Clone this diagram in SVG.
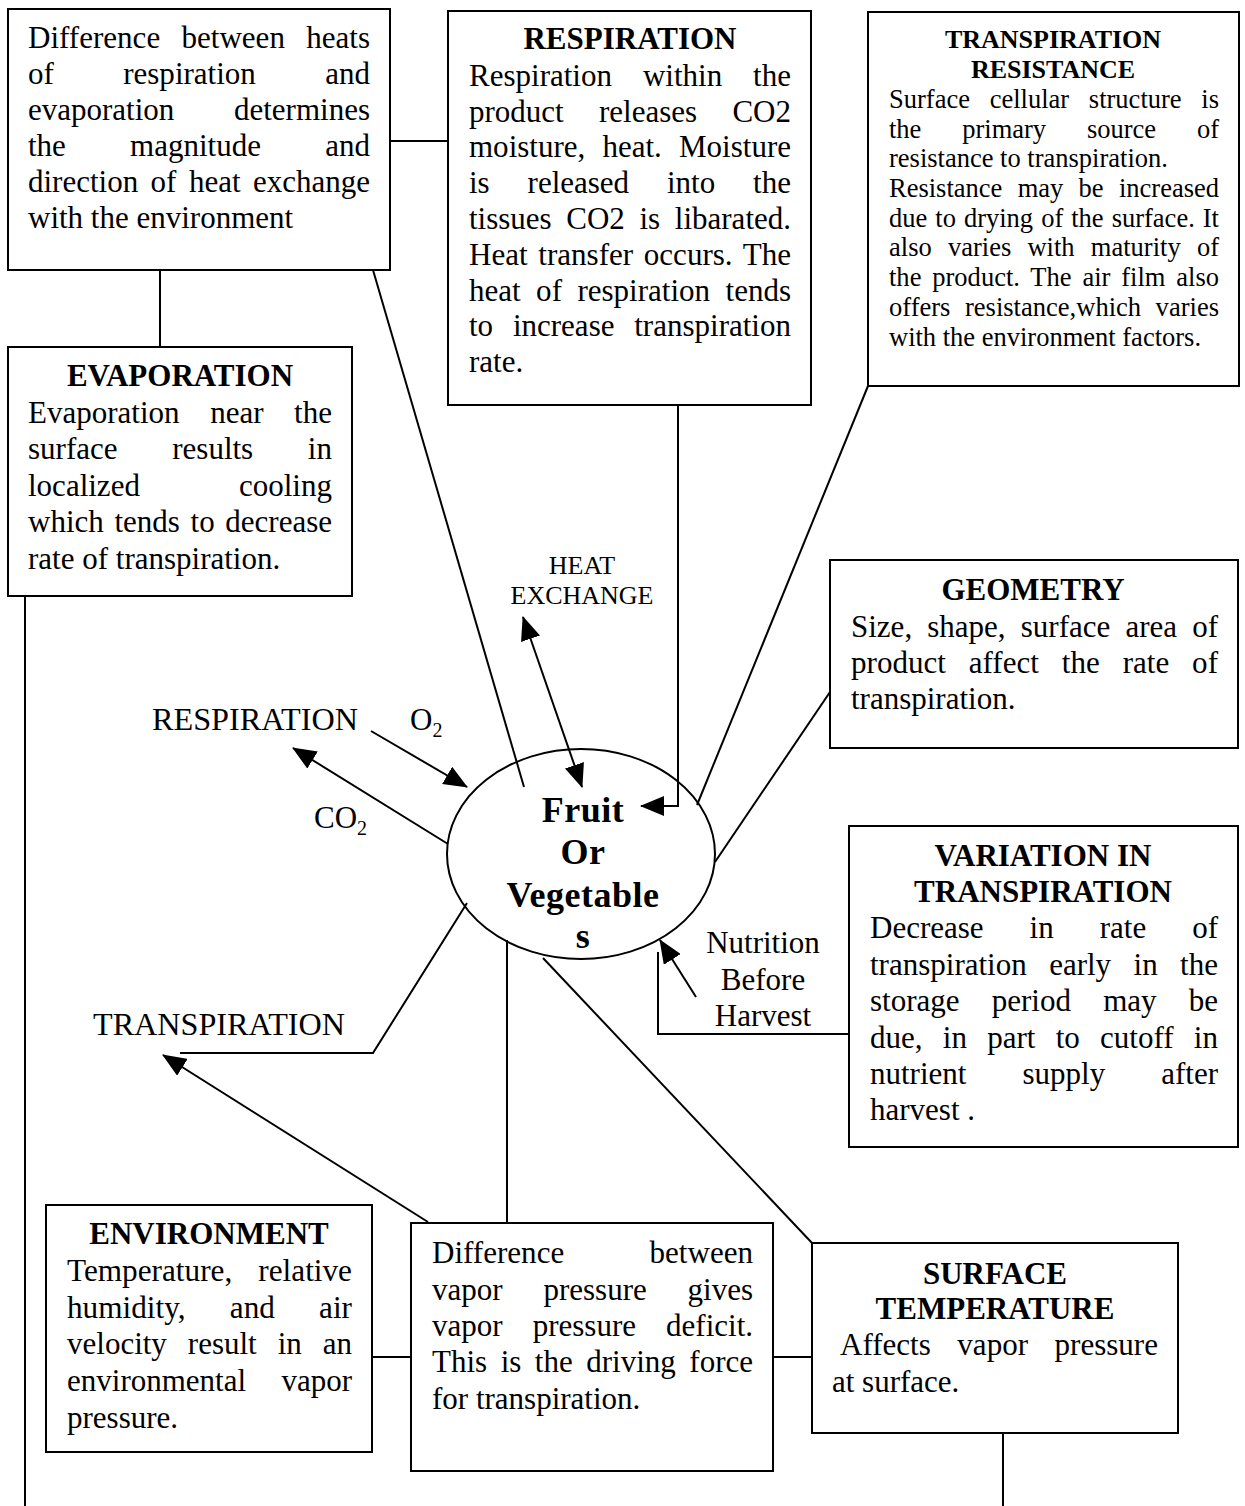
<svg xmlns="http://www.w3.org/2000/svg" width="1245" height="1506" viewBox="0 0 1245 1506">
<style>
.t{font-family:"Liberation Serif","Times New Roman",serif;font-size:31px;fill:#000}
.b{font-weight:bold}
.sm{font-size:26.5px}
.lb{font-size:26px}
.c{text-anchor:middle}
.box{fill:#fff;stroke:#000;stroke-width:2}
.ln{fill:none;stroke:#000;stroke-width:2}
.fv{font-family:"Liberation Serif","Times New Roman",serif;font-size:36px;font-weight:bold;text-anchor:middle;letter-spacing:0.5px}
</style>
<defs>
<marker id="ah" viewBox="0 0 24 20" refX="23" refY="10" markerWidth="24" markerHeight="20" markerUnits="userSpaceOnUse" orient="auto-start-reverse">
<path d="M0,0 L24,10 L0,20 z" fill="#000"/>
</marker>
</defs>
<rect width="1245" height="1506" fill="#fff"/>

<g id="node-heat-difference">
<rect class="box" x="8" y="9" width="382" height="261"/>
<text class="t" x="28" y="48" style="word-spacing:13.5px" textLength="342" lengthAdjust="spacingAndGlyphs">Difference between heats</text>
<text class="t" x="28" y="84" style="word-spacing:61.6px" textLength="342" lengthAdjust="spacingAndGlyphs">of respiration and</text>
<text class="t" x="28" y="120" style="word-spacing:51.9px" textLength="342" lengthAdjust="spacingAndGlyphs">evaporation determines</text>
<text class="t" x="28" y="156" style="word-spacing:56.5px" textLength="342" lengthAdjust="spacingAndGlyphs">the magnitude and</text>
<text class="t" x="28" y="192" style="word-spacing:4.7px" textLength="342" lengthAdjust="spacingAndGlyphs">direction of heat exchange</text>
<text class="t" x="28" y="228">with the environment</text>
</g>

<g id="node-respiration">
<rect class="box" x="448" y="11" width="363" height="394"/>
<text class="t b c" x="630" y="49">RESPIRATION</text>
<text class="t" x="469" y="86" style="word-spacing:23.2px" textLength="322" lengthAdjust="spacingAndGlyphs">Respiration within the</text>
<text class="t" x="469" y="122" style="word-spacing:27.6px" textLength="322" lengthAdjust="spacingAndGlyphs">product releases CO2</text>
<text class="t" x="469" y="157" style="word-spacing:9.4px" textLength="322" lengthAdjust="spacingAndGlyphs">moisture, heat. Moisture</text>
<text class="t" x="469" y="193" style="word-spacing:30.1px" textLength="322" lengthAdjust="spacingAndGlyphs">is released into the</text>
<text class="t" x="469" y="229" style="word-spacing:6.9px" textLength="322" lengthAdjust="spacingAndGlyphs">tissues CO2 is libarated.</text>
<text class="t" x="469" y="265" style="word-spacing:2.9px" textLength="322" lengthAdjust="spacingAndGlyphs">Heat transfer occurs. The</text>
<text class="t" x="469" y="301" style="word-spacing:7.7px" textLength="322" lengthAdjust="spacingAndGlyphs">heat of respiration tends</text>
<text class="t" x="469" y="336" style="word-spacing:12px" textLength="322" lengthAdjust="spacingAndGlyphs">to increase transpiration</text>
<text class="t" x="469" y="372">rate.</text>
</g>

<g id="node-transpiration-resistance">
<rect class="box" x="868" y="12" width="371" height="374"/>
<text class="t b c lb" x="1053" y="48">TRANSPIRATION</text>
<text class="t b c lb" x="1053" y="78">RESISTANCE</text>
<text class="t sm" x="889" y="108" style="word-spacing:13.1px" textLength="330" lengthAdjust="spacingAndGlyphs">Surface cellular structure is</text>
<text class="t sm" x="889" y="138" style="word-spacing:34.2px" textLength="330" lengthAdjust="spacingAndGlyphs">the primary source of</text>
<text class="t sm" x="889" y="167">resistance to transpiration.</text>
<text class="t sm" x="889" y="197" style="word-spacing:8.7px" textLength="330" lengthAdjust="spacingAndGlyphs">Resistance may be increased</text>
<text class="t sm" x="889" y="227" style="word-spacing:1.4px" textLength="330" lengthAdjust="spacingAndGlyphs">due to drying of the surface. It</text>
<text class="t sm" x="889" y="256" style="word-spacing:9.6px" textLength="330" lengthAdjust="spacingAndGlyphs">also varies with maturity of</text>
<text class="t sm" x="889" y="286" style="word-spacing:4.2px" textLength="330" lengthAdjust="spacingAndGlyphs">the product. The air film also</text>
<text class="t sm" x="889" y="316" style="word-spacing:7.9px" textLength="330" lengthAdjust="spacingAndGlyphs">offers resistance,which varies</text>
<text class="t sm" x="889" y="346">with the environment factors.</text>
</g>

<g id="node-evaporation">
<rect class="box" x="8" y="347" width="344" height="249"/>
<text class="t b c" x="180" y="386">EVAPORATION</text>
<text class="t" x="28" y="423" style="word-spacing:22.8px" textLength="304" lengthAdjust="spacingAndGlyphs">Evaporation near the</text>
<text class="t" x="28" y="459" style="word-spacing:46.9px" textLength="304" lengthAdjust="spacingAndGlyphs">surface results in</text>
<text class="t" x="28" y="496" style="word-spacing:91.3px" textLength="304" lengthAdjust="spacingAndGlyphs">localized cooling</text>
<text class="t" x="28" y="532" style="word-spacing:2.9px" textLength="304" lengthAdjust="spacingAndGlyphs">which tends to decrease</text>
<text class="t" x="28" y="569">rate of transpiration.</text>
</g>

<g id="node-geometry">
<rect class="box" x="830" y="560" width="408" height="188"/>
<text class="t b c" x="1033" y="600">GEOMETRY</text>
<text class="t" x="851" y="637" style="word-spacing:7.4px" textLength="367" lengthAdjust="spacingAndGlyphs">Size, shape, surface area of</text>
<text class="t" x="851" y="673" style="word-spacing:15.1px" textLength="367" lengthAdjust="spacingAndGlyphs">product affect the rate of</text>
<text class="t" x="851" y="709">transpiration.</text>
</g>

<g id="node-variation">
<rect class="box" x="849" y="826" width="389" height="321"/>
<text class="t b c" x="1043" y="866">VARIATION IN</text>
<text class="t b c" x="1043" y="902">TRANSPIRATION</text>
<text class="t" x="870" y="938" style="word-spacing:38.2px" textLength="348" lengthAdjust="spacingAndGlyphs">Decrease in rate of</text>
<text class="t" x="870" y="975" style="word-spacing:14.7px" textLength="348" lengthAdjust="spacingAndGlyphs">transpiration early in the</text>
<text class="t" x="870" y="1011" style="word-spacing:24.4px" textLength="348" lengthAdjust="spacingAndGlyphs">storage period may be</text>
<text class="t" x="870" y="1048" style="word-spacing:12.4px" textLength="348" lengthAdjust="spacingAndGlyphs">due, in part to cutoff in</text>
<text class="t" x="870" y="1084" style="word-spacing:48.3px" textLength="348" lengthAdjust="spacingAndGlyphs">nutrient supply after</text>
<text class="t" x="870" y="1120">harvest .</text>
</g>

<g id="node-environment">
<rect class="box" x="46" y="1205" width="326" height="247"/>
<text class="t b c" x="209" y="1244">ENVIRONMENT</text>
<text class="t" x="67" y="1281" style="word-spacing:18.1px" textLength="285" lengthAdjust="spacingAndGlyphs">Temperature, relative</text>
<text class="t" x="67" y="1318" style="word-spacing:36.1px" textLength="285" lengthAdjust="spacingAndGlyphs">humidity, and air</text>
<text class="t" x="67" y="1354" style="word-spacing:13.2px" textLength="285" lengthAdjust="spacingAndGlyphs">velocity result in an</text>
<text class="t" x="67" y="1391" style="word-spacing:27.5px" textLength="285" lengthAdjust="spacingAndGlyphs">environmental vapor</text>
<text class="t" x="67" y="1428">pressure.</text>
</g>

<g id="node-vapor-deficit">
<rect class="box" x="411" y="1223" width="362" height="248"/>
<text class="t" x="432" y="1263" style="word-spacing:77.4px" textLength="321" lengthAdjust="spacingAndGlyphs">Difference between</text>
<text class="t" x="432" y="1300" style="word-spacing:33.1px" textLength="321" lengthAdjust="spacingAndGlyphs">vapor pressure gives</text>
<text class="t" x="432" y="1336" style="word-spacing:22.3px" textLength="321" lengthAdjust="spacingAndGlyphs">vapor pressure deficit.</text>
<text class="t" x="432" y="1372" style="word-spacing:5.8px" textLength="321" lengthAdjust="spacingAndGlyphs">This is the driving force</text>
<text class="t" x="432" y="1409">for transpiration.</text>
</g>

<g id="node-surface-temperature">
<rect class="box" x="812" y="1243" width="366" height="190"/>
<text class="t b c" x="995" y="1284">SURFACE</text>
<text class="t b c" x="995" y="1319">TEMPERATURE</text>
<text class="t" x="840" y="1355" style="word-spacing:18.7px" textLength="318" lengthAdjust="spacingAndGlyphs">Affects vapor pressure</text>
<text class="t" x="832" y="1392">at surface.</text>
</g>

<g id="node-fruit">
<ellipse cx="581" cy="854" rx="134" ry="105" fill="#fff" stroke="#000" stroke-width="2"/>
<text class="fv" x="583" y="822">Fruit</text>
<text class="fv" x="583" y="864">Or</text>
<text class="fv" x="583" y="907">Vegetable</text>
<text class="fv" x="583" y="948">s</text>
</g>

<g id="labels">
<text class="t lb c" x="582" y="574">HEAT</text>
<text class="t lb c" x="582" y="604">EXCHANGE</text>
<text class="t" x="152" y="730" textLength="206" lengthAdjust="spacingAndGlyphs">RESPIRATION</text>
<text class="t" x="410" y="730">O<tspan font-size="20" dy="7">2</tspan></text>
<text class="t" x="314" y="828">CO<tspan font-size="20" dy="7">2</tspan></text>
<text class="t" x="93" y="1035" textLength="252" lengthAdjust="spacingAndGlyphs">TRANSPIRATION</text>
<text class="t c" x="763" y="953">Nutrition</text>
<text class="t c" x="763" y="990">Before</text>
<text class="t c" x="763" y="1026">Harvest</text>
</g>

<g id="connectors">
<line class="ln" x1="390" y1="141" x2="448" y2="141"/>
<line class="ln" x1="160" y1="270" x2="160" y2="347"/>
<line class="ln" x1="373" y1="270" x2="524" y2="787"/>
<line class="ln" x1="523" y1="617" x2="582" y2="787" marker-start="url(#ah)" marker-end="url(#ah)"/>
<polyline class="ln" points="678,405 678,806 641,806" marker-end="url(#ah)"/>
<line class="ln" x1="868" y1="386" x2="697" y2="805"/>
<line class="ln" x1="830" y1="692" x2="715" y2="862"/>
<line class="ln" x1="371" y1="731" x2="467" y2="787" marker-end="url(#ah)"/>
<line class="ln" x1="448" y1="844" x2="293" y2="748" marker-end="url(#ah)"/>
<polyline class="ln" points="467,903 373,1053 180,1053"/>
<line class="ln" x1="428" y1="1222" x2="163" y2="1055" marker-end="url(#ah)"/>
<line class="ln" x1="507" y1="940" x2="507" y2="1223"/>
<line class="ln" x1="543" y1="958" x2="812" y2="1243"/>
<polyline class="ln" points="849,1034 658,1034 658,952"/>
<line class="ln" x1="696" y1="997" x2="660" y2="940" marker-end="url(#ah)"/>
<line class="ln" x1="372" y1="1357" x2="411" y2="1357"/>
<line class="ln" x1="773" y1="1357" x2="812" y2="1357"/>
<line class="ln" x1="1003" y1="1433" x2="1003" y2="1506"/>
<line class="ln" x1="25" y1="596" x2="25" y2="1506"/>
</g>
</svg>
